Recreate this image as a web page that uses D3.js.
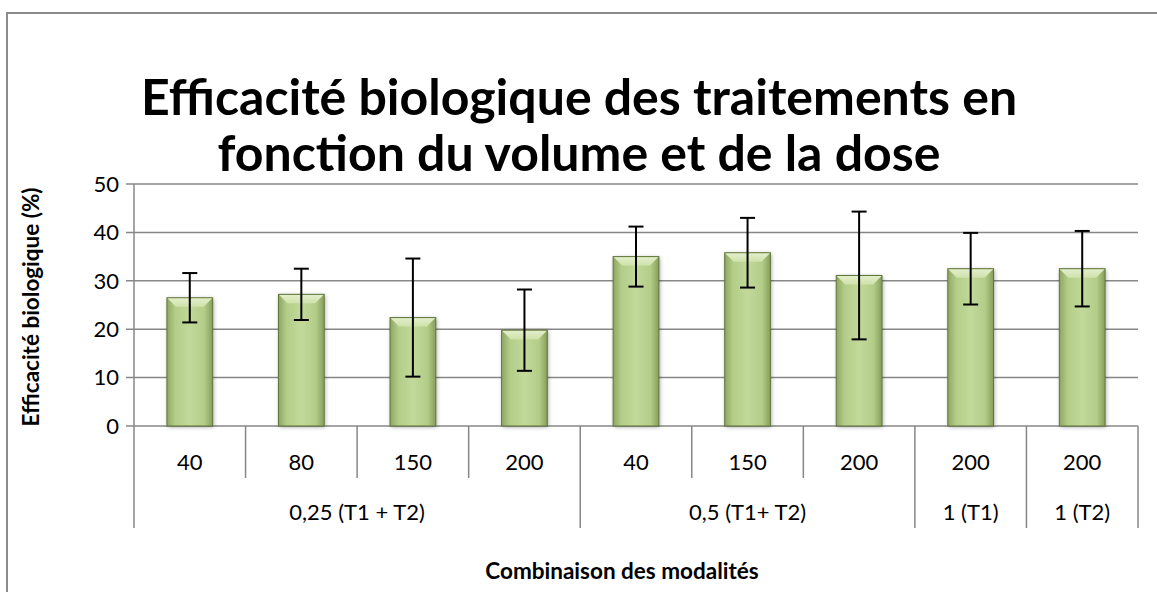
<!DOCTYPE html>
<html>
<head>
<meta charset="utf-8">
<script src="https://cdn.jsdelivr.net/npm/d3@7"></script>
<style>
  body { margin: 0; background: #fff; }
  text { font-family: Lato, "Open Sans", sans-serif; }
</style>
</head>
<body>
<div id="chart"></div>
<script>
// data
const subLabels = ['40', '80', '150', '200', '40', '150', '200', '200', '200'];
const groupLabels = ['0,25 (T1 + T2)', '0,5 (T1+ T2)', '1 (T1)', '1 (T2)'];
const groupSizes = [4, 3, 1, 1];
const values = [26.5, 27.2, 22.4, 19.8, 35.0, 35.8, 31.1, 32.5, 32.5];
const errors = [5.1, 5.3, 12.2, 8.4, 6.2, 7.2, 13.2, 7.4, 7.8];
const yTicks = [0, 10, 20, 30, 40, 50];

const width = 1157, height = 592;
const plot = { left: 134, right: 1138, top: 184, bottom: 426 };

const svg = d3.select('#chart').append('svg')
  .attr('width', width)
  .attr('height', height);

// gradients for the bevelled bars
const defs = svg.append('defs');
const sideGrad = defs.append('linearGradient').attr('id', 'barSide')
  .attr('x1', 0).attr('x2', 1).attr('y1', 0).attr('y2', 0);
sideGrad.append('stop').attr('offset', '0%').attr('stop-color', '#8ea662');
sideGrad.append('stop').attr('offset', '18%').attr('stop-color', '#b3cd88');
sideGrad.append('stop').attr('offset', '50%').attr('stop-color', '#c2d99a');
sideGrad.append('stop').attr('offset', '82%').attr('stop-color', '#b3cd88');
sideGrad.append('stop').attr('offset', '100%').attr('stop-color', '#869e5b');

const topGrad = defs.append('linearGradient').attr('id', 'barTop')
  .attr('x1', 0).attr('x2', 0).attr('y1', 0).attr('y2', 1);
topGrad.append('stop').attr('offset', '0%').attr('stop-color', '#e4efcc');
topGrad.append('stop').attr('offset', '100%').attr('stop-color', '#cfe2ab');

const shadow = defs.append('filter').attr('id', 'shadow')
  .attr('x', '-20%').attr('y', '-10%').attr('width', '140%').attr('height', '120%');
shadow.append('feGaussianBlur').attr('in', 'SourceAlpha').attr('stdDeviation', 2);
shadow.append('feOffset').attr('dx', 1).attr('dy', 1).attr('result', 'blur');
shadow.append('feComponentTransfer').append('feFuncA').attr('type', 'linear').attr('slope', 0.35);
const merge = shadow.append('feMerge');
merge.append('feMergeNode');
merge.append('feMergeNode').attr('in', 'SourceGraphic');

// chart frame (cut off at right and bottom)
svg.append('rect')
  .attr('x', 7).attr('y', 13)
  .attr('width', width + 20).attr('height', height + 20)
  .attr('fill', 'none')
  .attr('stroke', '#8c8c8c')
  .attr('stroke-width', 2);

// title
const title = svg.append('text')
  .attr('text-anchor', 'middle')
  .attr('font-weight', 'bold')
  .attr('font-size', 50)
  .attr('fill', '#000');
title.append('tspan').attr('x', 579).attr('y', 115).text('Efficacité biologique des traitements en');
title.append('tspan').attr('x', 579).attr('y', 171).text('fonction du volume et de la dose');

// scales
const y = d3.scaleLinear().domain([0, 50]).range([plot.bottom, plot.top]);
const slot = d3.scaleBand().domain(d3.range(values.length)).range([plot.left, plot.right]);
const x = d3.scaleBand().domain(d3.range(values.length)).range([plot.left, plot.right])
  .paddingInner(0.59).paddingOuter(0.295);

// gridlines
svg.append('g').selectAll('line')
  .data(yTicks)
  .join('line')
  .attr('x1', plot.left - 8).attr('x2', plot.right)
  .attr('y1', d => y(d)).attr('y2', d => y(d))
  .attr('stroke', '#878787')
  .attr('stroke-width', 1.5);

// y tick labels
svg.append('g').selectAll('text')
  .data(yTicks)
  .join('text')
  .attr('x', 119)
  .attr('y', d => y(d))
  .attr('dy', '0.35em')
  .attr('text-anchor', 'end')
  .attr('font-size', 22)
  .text(d => d);

// y axis title
svg.append('text')
  .attr('transform', `translate(31,${(plot.top + plot.bottom) / 2 + 2}) rotate(-90)`)
  .attr('dy', '0.35em')
  .attr('text-anchor', 'middle')
  .attr('font-weight', 'bold')
  .attr('font-size', 22.5)
  .text('Efficacité biologique (%)');

// category axis: inner ticks and group separators
const groupEnds = d3.cumsum(groupSizes);
const groupStarts = [0, ...groupEnds.slice(0, -1)];
const isGroupEdge = i => i === 0 || groupEnds.includes(i);

svg.append('g').selectAll('line')
  .data(d3.range(values.length + 1))
  .join('line')
  .attr('x1', i => i < values.length ? slot(i) : plot.right)
  .attr('x2', i => i < values.length ? slot(i) : plot.right)
  .attr('y1', plot.bottom)
  .attr('y2', i => isGroupEdge(i) ? 528 : 478)
  .attr('stroke', '#878787')
  .attr('stroke-width', 1.5);

// left axis line
svg.append('line')
  .attr('x1', plot.left).attr('x2', plot.left)
  .attr('y1', plot.top).attr('y2', plot.bottom)
  .attr('stroke', '#878787')
  .attr('stroke-width', 1.5);

svg.append('g').selectAll('text')
  .data(subLabels)
  .join('text')
  .attr('x', (d, i) => slot(i) + slot.bandwidth() / 2)
  .attr('y', 462)
  .attr('dy', '0.35em')
  .attr('text-anchor', 'middle')
  .attr('font-size', 22)
  .text(d => d);

svg.append('g').selectAll('text')
  .data(groupLabels)
  .join('text')
  .attr('x', (d, i) => slot(groupStarts[i]) + groupSizes[i] * slot.bandwidth() / 2)
  .attr('y', 512)
  .attr('dy', '0.35em')
  .attr('text-anchor', 'middle')
  .attr('font-size', 22)
  .text(d => d);

// x axis title
svg.append('text')
  .attr('x', 622)
  .attr('y', 579)
  .attr('text-anchor', 'middle')
  .attr('font-weight', 'bold')
  .attr('font-size', 22.5)
  .text('Combinaison des modalités');

// bars
const bev = 9;
const bars = svg.append('g').selectAll('g')
  .data(values)
  .join('g');

bars.append('rect')
  .attr('x', (d, i) => x(i))
  .attr('y', d => y(d))
  .attr('width', x.bandwidth())
  .attr('height', d => y(0) - y(d))
  .attr('fill', 'url(#barSide)')
  .attr('filter', 'url(#shadow)');

bars.append('path')
  .attr('d', (d, i) => {
    const x0 = x(i), x1 = x(i) + x.bandwidth(), y0 = y(d);
    return `M${x0},${y0}L${x1},${y0}L${x1 - bev},${y0 + bev}L${x0 + bev},${y0 + bev}Z`;
  })
  .attr('fill', 'url(#barTop)');

bars.append('rect')
  .attr('x', (d, i) => x(i))
  .attr('y', d => y(d))
  .attr('width', x.bandwidth())
  .attr('height', d => y(0) - y(d))
  .attr('fill', 'none')
  .attr('stroke', '#5f7538')
  .attr('stroke-width', 1);

// error bars
const errG = svg.append('g')
  .attr('stroke', '#000')
  .attr('stroke-width', 2);
values.forEach((v, i) => {
  const cx = x(i) + x.bandwidth() / 2;
  const hi = y(v + errors[i]), lo = y(v - errors[i]);
  errG.append('line').attr('x1', cx).attr('x2', cx).attr('y1', hi).attr('y2', lo);
  errG.append('line').attr('x1', cx - 7.5).attr('x2', cx + 7.5).attr('y1', hi).attr('y2', hi);
  errG.append('line').attr('x1', cx - 7.5).attr('x2', cx + 7.5).attr('y1', lo).attr('y2', lo);
});
</script>
</body>
</html>
